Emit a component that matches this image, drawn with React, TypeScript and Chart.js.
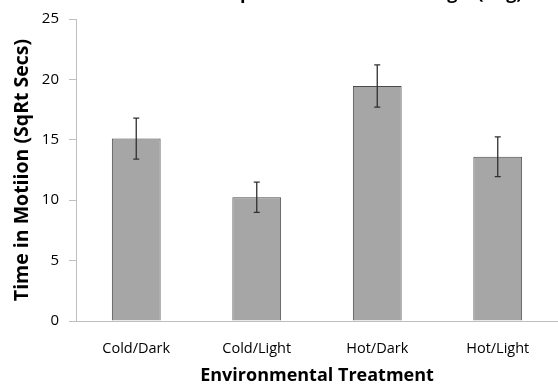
import React, { useEffect, useRef } from "react";
import { Chart, registerables } from "chart.js";

Chart.register(...registerables);

const categories = ["Cold/Dark", "Cold/Light", "Hot/Dark", "Hot/Light"];
const means = [15.1, 10.25, 19.45, 13.6];
const errors = [1.7, 1.25, 1.75, 1.65];
const yTicks = [0, 5, 10, 15, 20, 25];
const titleText = "Time in Motion per Environmental Range  (Avg)";

const FONT = "'Open Sans', 'Noto Sans', sans-serif";

const errorBarPlugin = {
  id: "errorBars",
  afterDatasetsDraw(chart: any) {
    const ctx = chart.ctx;
    const meta = chart.getDatasetMeta(0);
    const y = chart.scales.y;
    ctx.save();
    ctx.strokeStyle = "#303030";
    ctx.lineWidth = 1.3;
    meta.data.forEach((bar: any, i: number) => {
      const x = bar.x;
      const top = y.getPixelForValue(means[i] + errors[i]);
      const bot = y.getPixelForValue(means[i] - errors[i]);
      const cap = 3;
      ctx.beginPath();
      ctx.moveTo(x, top);
      ctx.lineTo(x, bot);
      ctx.moveTo(x - cap, top);
      ctx.lineTo(x + cap, top);
      ctx.moveTo(x - cap, bot);
      ctx.lineTo(x + cap, bot);
      ctx.stroke();
    });
    ctx.restore();
  },
};

const clippedTitlePlugin = {
  id: "clippedTitle",
  afterDraw(chart: any) {
    const ctx = chart.ctx;
    ctx.save();
    ctx.font = `bold 18px ${FONT}`;
    ctx.fillStyle = "#000";
    ctx.textBaseline = "alphabetic";
    const pre = titleText.slice(0, titleText.indexOf("per"));
    const x0 = 240 - ctx.measureText(pre).width;
    ctx.fillText(titleText, x0, -1.5);
    ctx.restore();
  },
};

export default function App() {
  const ref = useRef<HTMLCanvasElement>(null);
  useEffect(() => {
    if (!ref.current) return;
    const chart = new Chart(ref.current, {
      type: "bar",
      data: {
        labels: categories,
        datasets: [
          {
            data: means,
            backgroundColor: "#a6a6a6",
            borderColor: "#4a4a4a",
            borderWidth: 1,
            categoryPercentage: 1,
            barPercentage: 0.405,
          },
        ],
      },
      options: {
        animation: false,
        responsive: false,
        maintainAspectRatio: false,
        layout: { padding: { top: 18, right: 0, left: 0, bottom: 0 } },
        plugins: {
          legend: { display: false },
          tooltip: { enabled: false },
          title: { display: false },
        },
        scales: {
          x: {
            grid: { display: true, drawOnChartArea: false, drawTicks: false },
            border: { display: true, color: "#bfbfbf", width: 1 },
            ticks: { color: "#000", font: { family: FONT, size: 14.5 }, padding: 19 },
            title: {
              display: true,
              text: "Environmental Treatment",
              color: "#000",
              font: { family: FONT, size: 18, weight: "bold" },
              padding: { top: 7, bottom: 0 },
            },
            afterFit: (s: any) => {
              s.height = 66;
            },
          },
          y: {
            min: 0,
            max: 25,
            afterBuildTicks: (s: any) => {
              s.ticks = yTicks.map((v) => ({ value: v }));
            },
            grid: { drawOnChartArea: false, color: "#bfbfbf", tickLength: 7 },
            border: { display: true, color: "#bfbfbf", width: 1 },
            ticks: { color: "#000", font: { family: FONT, size: 15 }, padding: 10 },
            title: {
              display: true,
              text: "Time in Motiion (SqRt Secs)",
              color: "#000",
              font: { family: FONT, size: 19.5, weight: "bold" },
              padding: { top: 11, bottom: 0 },
            },
            afterFit: (s: any) => {
              s.width = 76;
            },
          },
        },
      },
      plugins: [errorBarPlugin, clippedTitlePlugin],
    });
    return () => chart.destroy();
  }, []);
  return (
    <div style={{ position: "fixed", left: 0, top: 0, width: 558, height: 387, background: "#fff" }}>
      <canvas ref={ref} width={558} height={387} style={{ width: 558, height: 387 }} />
    </div>
  );
}
